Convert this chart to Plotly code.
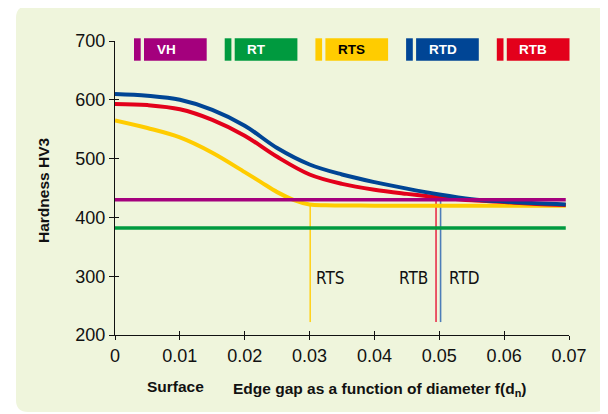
import plotly.graph_objects as go

# ---- data ----
x_rtd = [0, 0.005, 0.01, 0.015, 0.02, 0.025, 0.03, 0.035, 0.04, 0.045, 0.05, 0.055, 0.06, 0.065, 0.0695]
rtd = [610, 607, 600, 583, 556, 518, 490, 473, 460, 449, 439, 431, 427, 424, 422]
x_rtb = [0, 0.005, 0.01, 0.015, 0.02, 0.025, 0.03, 0.035, 0.04, 0.045, 0.05, 0.055, 0.06, 0.065, 0.0695]
rtb = [593, 591, 584, 566, 539, 503, 473, 457, 447, 440, 434, 429, 426, 423, 421]
x_rts = [0, 0.005, 0.01, 0.015, 0.02, 0.0225, 0.025, 0.0275, 0.03, 0.0325, 0.04, 0.05, 0.06, 0.0695]
rts = [565, 552, 536, 510, 477, 460, 443, 430, 422, 420.5, 420, 420, 420, 420]
x_flat = [0, 0.0695]
vh = [430, 430]
rt = [382, 382]

# drop lines (x position, top value, bottom value)
drop_names = ["RTS", "RTB", "RTD"]
drop_x = [0.0301, 0.0495, 0.0502]
drop_top = [423, 430, 430]
drop_bottom = [222, 222, 222]
label_y = 297

x_ticks = [0, 0.01, 0.02, 0.03, 0.04, 0.05, 0.06, 0.07]
x_ticktext = ["0", "0.01", "0.02", "0.03", "0.04", "0.05", "0.06", "0.07"]
y_ticks = [200, 300, 400, 500, 600, 700]

legend_names = ["VH", "RT", "RTS", "RTD", "RTB"]

# ---- styles ----
C = {"VH": "#A4007D", "RT": "#009A3F", "RTS": "#FFCC00", "RTD": "#004595", "RTB": "#E3001B"}
DROP_C = {"RTS": "#FFD21F", "RTB": "#E8304A", "RTD": "#4D7DB8"}
LEG_TXT = {"VH": "white", "RT": "white", "RTS": "black", "RTD": "white", "RTB": "white"}
BG = "#EFF5DC"
COND = "DejaVu Sans Condensed, Liberation Sans, sans-serif"
BOLDF = "Liberation Sans, Arial, sans-serif"
TICKF = "Liberation Sans, Arial, sans-serif"

# page body has an 8px margin; figure is sized/offset to compensate
OFF = 8
W, H = 608 - OFF, 414 - OFF
L, T = 115 - OFF, 41 - OFF
R, B = 39, 79
PW, PH = W - L - R, H - T - B


def px(x):
    return (x - OFF - L) / PW


def py(y):
    return (H - B - (y - OFF)) / PH


fig = go.Figure()

for n, xv, top, bot in zip(drop_names, drop_x, drop_top, drop_bottom):
    fig.add_trace(go.Scatter(x=[xv, xv], y=[top, bot], mode="lines",
                             line=dict(color=DROP_C[n], width=1.6), hoverinfo="skip"))

fig.add_trace(go.Scatter(x=x_flat, y=rt, mode="lines", line=dict(color=C["RT"], width=3.4)))
fig.add_trace(go.Scatter(x=x_rts, y=rts, mode="lines", line=dict(color=C["RTS"], width=4, shape="spline")))
fig.add_trace(go.Scatter(x=x_rtb, y=rtb, mode="lines", line=dict(color=C["RTB"], width=4, shape="spline")))
fig.add_trace(go.Scatter(x=x_rtd, y=rtd, mode="lines", line=dict(color=C["RTD"], width=4, shape="spline")))
fig.add_trace(go.Scatter(x=x_flat, y=vh, mode="lines", line=dict(color=C["VH"], width=3.4)))

# helper trace for crossing ticks
fig.add_trace(go.Scatter(x=[0], y=[200], xaxis="x2", yaxis="y2", mode="markers",
                         marker=dict(opacity=0), hoverinfo="skip"))

# drop-line labels
fig.add_annotation(x=drop_x[0], y=label_y, text="RTS", showarrow=False, xanchor="left", yanchor="middle",
                   xshift=4, font=dict(family=COND, size=17, color="#111"))
fig.add_annotation(x=drop_x[1], y=label_y, text="RTB", showarrow=False, xanchor="right", yanchor="middle",
                   xshift=-6, font=dict(family=COND, size=17, color="#111"))
fig.add_annotation(x=drop_x[2], y=label_y, text="RTD", showarrow=False, xanchor="left", yanchor="middle",
                   xshift=6, font=dict(family=COND, size=17, color="#111"))

# axis titles
fig.add_annotation(xref="paper", yref="paper", x=px(43.5), y=py(190.5), text="<b>Hardness HV3</b>",
                   textangle=-90, showarrow=False, xanchor="center", yanchor="middle",
                   font=dict(family=BOLDF, size=15.5, color="#111"))
fig.add_annotation(xref="paper", yref="paper", x=px(175), y=py(386), text="<b>Surface</b>",
                   showarrow=False, xanchor="center", yanchor="middle",
                   font=dict(family=BOLDF, size=15.5, color="#111"))
fig.add_annotation(xref="paper", yref="paper", x=px(231), y=py(378), yanchor="top", xanchor="left",
                   text="<b>Edge gap as a function of diameter f(d<sub>n</sub>)</b>",
                   showarrow=False, font=dict(family=BOLDF, size=15.5, color="#111"))

shapes = []
# rounded panel background
x0, x1, y0, y1, r = 16, 607, 6, 412, 12
path = (f"M {px(x0 + r)},{py(y0)} L {px(x1 - r)},{py(y0)} Q {px(x1)},{py(y0)} {px(x1)},{py(y0 + r)} "
        f"L {px(x1)},{py(y1 - r)} Q {px(x1)},{py(y1)} {px(x1 - r)},{py(y1)} "
        f"L {px(x0 + r)},{py(y1)} Q {px(x0)},{py(y1)} {px(x0)},{py(y1 - r)} "
        f"L {px(x0)},{py(y0 + r)} Q {px(x0)},{py(y0)} {px(x0 + r)},{py(y0)} Z")
shapes.append(dict(type="path", xref="paper", yref="paper", path=path, fillcolor=BG,
                   line=dict(width=0), layer="below"))

# legend boxes
for i, n in enumerate(legend_names):
    bx = 134 + 90.7 * i
    shapes.append(dict(type="rect", xref="paper", yref="paper", x0=px(bx), x1=px(bx + 6.7),
                       y0=py(60.7), y1=py(38.3), fillcolor=C[n], line=dict(width=0)))
    shapes.append(dict(type="rect", xref="paper", yref="paper", x0=px(bx + 10), x1=px(bx + 72.7),
                       y0=py(60.7), y1=py(38.3), fillcolor=C[n], line=dict(width=0)))
    fig.add_annotation(xref="paper", yref="paper", x=px(bx + 20.5), y=py(49.5),
                       xanchor="left", yanchor="middle",
                       text=f"<b>{n}</b>", showarrow=False,
                       font=dict(family=BOLDF, size=13.5, color=LEG_TXT[n]))

axis_common = dict(showgrid=False, zeroline=False)
fig.update_layout(
    width=W, height=H, margin=dict(l=L, r=R, t=T, b=B),
    paper_bgcolor="white", plot_bgcolor="rgba(0,0,0,0)", showlegend=False,
    shapes=shapes,
    xaxis=dict(range=[0, 0.07], tickvals=x_ticks, ticktext=x_ticktext, showline=True,
               linecolor="#111", linewidth=1.4, ticks="outside", ticklen=4, tickwidth=1.2,
               tickcolor="#111", tickfont=dict(family=TICKF, size=18, color="#111"), **axis_common),
    yaxis=dict(range=[200, 700], tickvals=y_ticks, showline=True,
               linecolor="#111", linewidth=1.4, ticks="outside", ticklen=5, tickwidth=1.2,
               tickcolor="#111", tickfont=dict(family=TICKF, size=18, color="#111"), **axis_common),
    xaxis2=dict(range=[0, 0.07], tickvals=x_ticks, overlaying="x", anchor="y2", side="bottom",
                ticks="inside", ticklen=4, tickwidth=1.2, tickcolor="#111", showticklabels=False,
                showline=False, **axis_common),
    yaxis2=dict(range=[200, 700], tickvals=y_ticks, overlaying="y", anchor="x2", side="left",
                ticks="inside", ticklen=4, tickwidth=1.2, tickcolor="#111", showticklabels=False,
                showline=False, **axis_common),
)

fig.write_html("out.html")
